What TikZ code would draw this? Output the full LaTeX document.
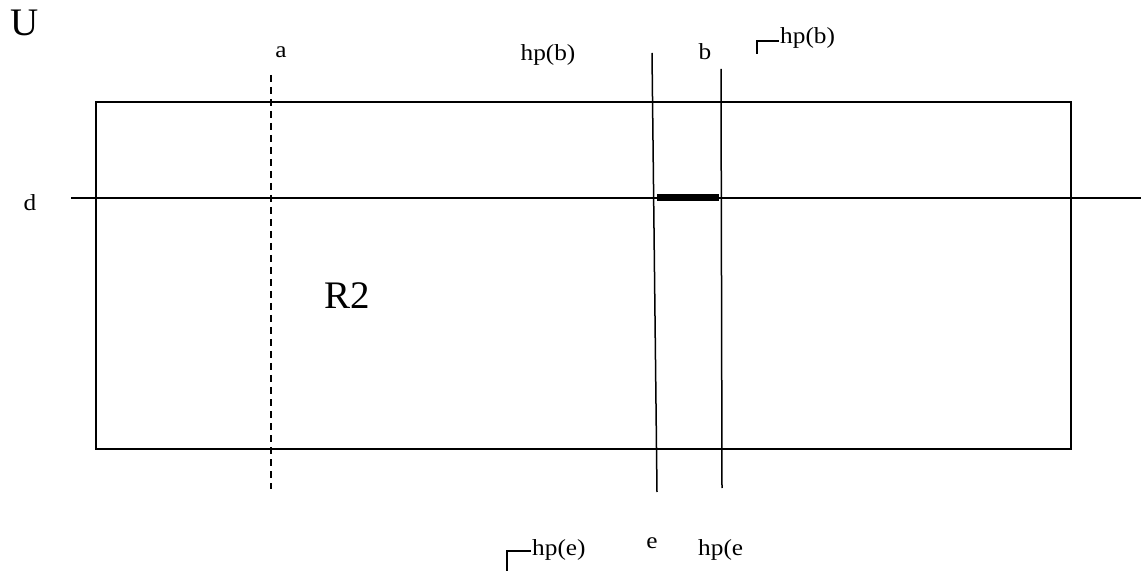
\documentclass[tikz,border=0pt]{standalone}
\usepackage{fontspec}
\setmainfont{Liberation Serif}
\usepackage{tikz}
\usetikzlibrary{calc}
\tikzstyle{frame} = [
    line width=1.6pt,
    draw=black
]
\tikzstyle{cut} = [
    line width=1.5pt,
    draw=black
]
\tikzstyle{dashcut} = [
    line width=1.5pt,
    draw=black,
    dash pattern=on 7pt off 5pt
]
\tikzstyle{segment} = [
    line width=7pt,
    draw=black
]
\tikzstyle{lbl} = [
    inner sep=0pt,
    xscale=1.1,
    font=\fontsize{23}{25}\selectfont
]
\tikzstyle{biglbl} = [
    inner sep=0pt,
    font=\fontsize{39}{41}\selectfont
]
\tikzstyle{negmark} = [
    line width=1.4pt
]

\begin{document}
\begin{tikzpicture}[x=1pt, y=1pt]
        \useasboundingbox (0,0) rectangle (1141,571);

        % Region R2
        \draw[frame] (96,122) rectangle (1071,469);

        % Lines
        \coordinate (dL) at (71,373);
        \coordinate (dR) at (1141,373);
        \coordinate (aT) at (271,496);
        \coordinate (aB) at (271,82);
        \coordinate (eT) at (652,518);
        \coordinate (eB) at (657,79);
        \coordinate (bT) at (721,502);
        \coordinate (bB) at (722,83);
        \draw[cut] (dL) -- (dR);
        \draw[dashcut] (aT) -- (aB);
        \draw[cut] (eT) -- (eB);
        \draw[cut] (bT) -- (bB);

        % Intersection part of d
        \coordinate (sL) at (657,373);
        \coordinate (sR) at (719,373);
        \draw[segment] (sL) -- (sR);

        % Labels
        \node[biglbl] (univ) at (25,548) {U};
        \node[biglbl] (regtwo) at (347,275) {R2};
        \node[lbl] (la) at (281,519) {a};
        \node[lbl] (lhpb) at (548,516) {hp(b)};
        \node[lbl] (lb) at (705,519) {b};
        \node[lbl, anchor=base west] (lnhpb) at (780,527) {hp(b)};
        \node[lbl] (ld) at (30,368) {d};
        \node[lbl] (le) at (652,28) {e};
        \node[lbl, anchor=base west] (lnhpe) at (532,16) {hp(e)};
        \node[lbl, anchor=base west] (lhpe) at (698,16) {hp(e};

        % Negation corners
        \draw[negmark] ($(lnhpb.base west)+(-1,3)$) -- ++(-22,0) -- ++(0,-13);
        \draw[negmark] ($(lnhpe.base west)+(-1,4)$) -- ++(-24,0) -- ++(0,-20);
    \end{tikzpicture}
\end{document}
